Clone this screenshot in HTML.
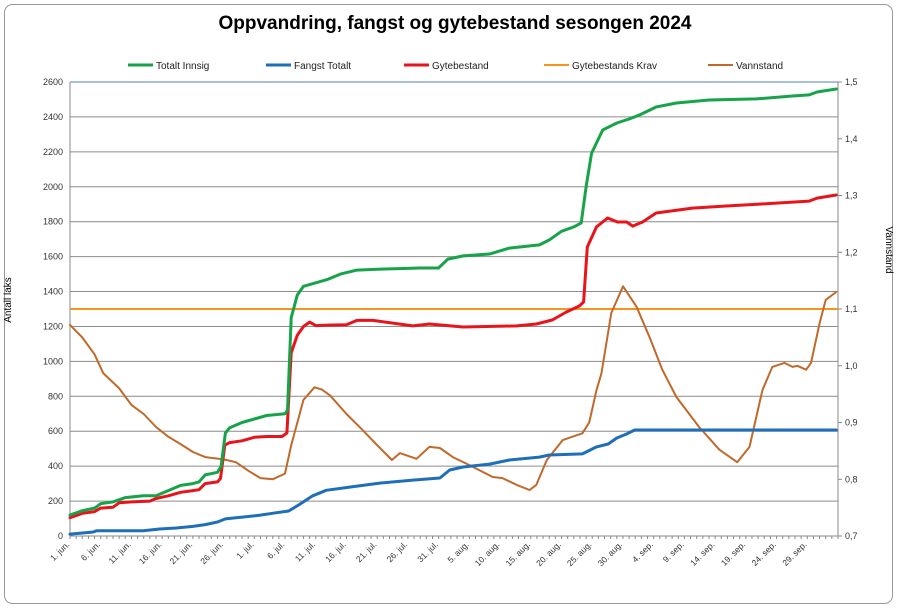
<!DOCTYPE html>
<html><head><meta charset="utf-8"><style>
body{margin:0;background:#fff;font-family:"Liberation Sans",sans-serif}
svg text{font-family:"Liberation Sans",sans-serif}
</style></head><body>
<svg id="chart" width="897" height="610" viewBox="0 0 897 610" xmlns="http://www.w3.org/2000/svg">
<rect x="4.5" y="4.5" width="888" height="599" rx="8" fill="#fff" stroke="#999" stroke-width="1"/>
<text x="455" y="29" text-anchor="middle" font-size="19" font-weight="bold">Oppvandring, fangst og gytebestand sesongen 2024</text>
<g id="legend"></g>
<g id="grid"></g>
<g id="axes"></g>
<g id="series"></g>
<text transform="translate(11,300) rotate(-90)" text-anchor="middle" font-size="10">Antall laks</text>
<text transform="translate(886,250) rotate(90)" text-anchor="middle" font-size="10">Vannstand</text>
</svg>
<script>
const xLabels=["1. jun.","6. jun.","11. jun.","16. jun.","21. jun.","26. jun.","1. jul.","6. jul.","11. jul.","16. jul.","21. jul.","26. jul.","31. jul.","5. aug.","10. aug.","15. aug.","20. aug.","25. aug.","30. aug.","4. sep.","9. sep.","14. sep.","19. sep.","24. sep.","29. sep."];
const yTicks=[0,200,400,600,800,1000,1200,1400,1600,1800,2000,2200,2400,2600];
const y2Ticks=["0,7","0,8","0,9","1,0","1,1","1,2","1,3","1,4","1,5"];
const kravValue=1300;
const innsigDays=[0,2,4,5,7,9,12,14,16,18,20,21,22,24,24.6,25.3,26,28,30,32,35,35.4,36,37,38,40,42,44,46.7,50,57,60,61.5,64,68.3,71.5,76.4,78,80,82,83.2,84,84.9,86.7,89,91,92.7,95.4,98.7,104,111.7,117.6,120.3,121.6,124.7];
const innsigVals=[120,145,160,185,195,220,230,230,260,290,300,310,350,365,400,590,620,650,670,690,700,720,1250,1380,1430,1450,1470,1500,1523,1528,1535,1535,1586,1604,1615,1649,1667,1695,1745,1770,1793,2000,2193,2325,2365,2388,2411,2457,2480,2497,2503,2520,2526,2543,2560];
const gyteDays=[0,2,4,5,7,8,10,13,14,16,18,20,21,22,24,24.5,25.2,26,28,30,32,34.5,35.3,36,37,38,39,40,42,45,46.7,49.3,55.8,58.5,64,72.7,75.9,78.5,80.8,82.9,83.6,84.2,85.7,87.5,89.1,90.6,91.6,93.2,95.4,101.3,106.8,112.2,120.3,121.6,124.7];
const gyteVals=[105,130,140,160,165,190,195,200,215,230,250,260,265,300,310,330,520,535,545,565,570,570,590,1050,1150,1200,1225,1205,1208,1210,1235,1235,1203,1214,1197,1203,1214,1237,1283,1317,1340,1655,1770,1821,1798,1798,1775,1798,1850,1878,1890,1901,1918,1935,1953];
const fangstDays=[0,3.8,4.3,11.9,14.6,17.3,20,22,24,25.3,28.6,30.7,33.5,35.6,37.3,39.5,41.7,45.5,50.4,55.8,60.2,61.8,64,68.3,71.5,76.4,78,83.4,85.7,87.6,89,90.6,91.9,124.7];
const fangstVals=[11,23,30,30,40,46,55,65,80,98,110,118,133,143,180,230,262,280,303,320,332,378,395,412,435,452,464,470,510,527,561,584,607,607];
const vannDays=[0,2,4,5.4,8,10,12,14,16,18,20,22,25,27,29,31,33,35,36,38,39.8,41,42.3,45,47.6,50,52.4,53.7,56.4,58.5,60.2,62.3,65,68.8,70.4,72.7,74.8,75.9,77.6,80.2,83.4,84.5,85.7,86.5,88.1,90,92.2,94.3,96.4,98.7,102.4,105.7,108.6,110.6,112.7,114.3,116.3,117.6,118.4,119.8,120.6,122,123,124.7];
const vannVals=[1.072,1.05,1.02,0.987,0.96,0.931,0.915,0.892,0.875,0.862,0.848,0.839,0.835,0.83,0.815,0.802,0.8,0.81,0.86,0.94,0.962,0.958,0.948,0.915,0.887,0.86,0.834,0.846,0.836,0.857,0.855,0.839,0.825,0.804,0.802,0.79,0.781,0.79,0.834,0.869,0.881,0.9,0.957,0.987,1.093,1.14,1.104,1.051,0.993,0.945,0.892,0.852,0.83,0.857,0.957,0.998,1.005,0.998,1.0,0.993,1.005,1.075,1.116,1.13];

const NS="http://www.w3.org/2000/svg";
const L=70,R=838,T=82,B=536,NDAYS=125;
const xS=d=>L+d*(R-L)/NDAYS;
const yS=v=>B-v*(B-T)/2600;
const y2S=v=>B-(v-0.7)*(B-T)/0.8;
function mk(tag,parent,attrs){const e=document.createElementNS(NS,tag);for(const k in attrs)e.setAttribute(k,attrs[k]);parent.appendChild(e);return e;}
const grid=document.getElementById('grid'),axes=document.getElementById('axes'),ser=document.getElementById('series'),leg=document.getElementById('legend');
yTicks.forEach(v=>{
  const ln=mk('line',grid,{x1:L,x2:R,y1:yS(v),y2:yS(v),stroke:'#8c8c8c','stroke-width':1});
  
  
  const t=mk('text',axes,{x:L-7,y:yS(v)+3,'text-anchor':'end','font-size':9,fill:'#333'});
  t.textContent=v;
  
  
});
y2Ticks.forEach((s,i)=>{
  const v=0.7+i*0.1;
  const t=mk('text',axes,{x:R+7,y:y2S(v)+3,'font-size':9,fill:'#333'});
  t.textContent=s;
  
  
  mk('line',axes,{x1:R,x2:R+4,y1:y2S(v),y2:y2S(v),stroke:'#888'});
});
mk('line',axes,{x1:L,x2:L,y1:T,y2:B,stroke:'#888'});
mk('line',axes,{x1:R,x2:R,y1:T,y2:B,stroke:'#888'});
mk('line',axes,{x1:L,x2:R,y1:T,y2:T,stroke:'#4f81bd'});
mk('line',axes,{x1:L,x2:R,y1:B,y2:B,stroke:'#888'});
for(let d=0;d<=NDAYS;d++){mk('line',axes,{x1:xS(d),x2:xS(d),y1:B,y2:B+3,stroke:'#888'});}
xLabels.forEach((s,i)=>{
  const x=xS(i*5),y=B+9;
  const t=mk('text',axes,{x:x,y:y,'text-anchor':'end','font-size':8.5,fill:'#333',transform:`rotate(-45 ${x} ${y})`});
  t.textContent=s;
  
  
});
function line(days,vals,ys,color,w,name){
  const pts=days.map((d,i)=>xS(d).toFixed(1)+','+ys(vals[i]).toFixed(1)).join(' ');
  const p=mk('polyline',ser,{points:pts,fill:'none',stroke:color,'stroke-width':w,'stroke-linejoin':'round','stroke-linecap':'round'});
  
  
}
const krav=mk('line',ser,{x1:L,x2:R,y1:yS(kravValue),y2:yS(kravValue),stroke:'#f7941d','stroke-width':2});


line(vannDays,vannVals,y2S,'#c0692a',2,'vannstand-line');
line(fangstDays,fangstVals,yS,'#1f6fb8',3,'fangst-totalt-line');
line(gyteDays,gyteVals,yS,'#e8141b',3,'gytebestand-line');
line(innsigDays,innsigVals,yS,'#17a34a',3,'totalt-innsig-line');
const legItems=[["Totalt  Innsig","#17a34a",128,3],["Fangst Totalt","#1f6fb8",266,3],["Gytebestand","#e8141b",404,3],["Gytebestands Krav","#f7941d",544,2],["Vannstand","#c0692a",708,2]];
legItems.forEach(it=>{
  const g=mk('g',leg,{});
  
  
  mk('line',g,{x1:it[2],x2:it[2]+25,y1:65,y2:65,stroke:it[1],'stroke-width':it[3]});
  const t=mk('text',g,{x:it[2]+28,y:69,'font-size':10,fill:'#222'});
  t.textContent=it[0];
});
</script>
</body></html>
